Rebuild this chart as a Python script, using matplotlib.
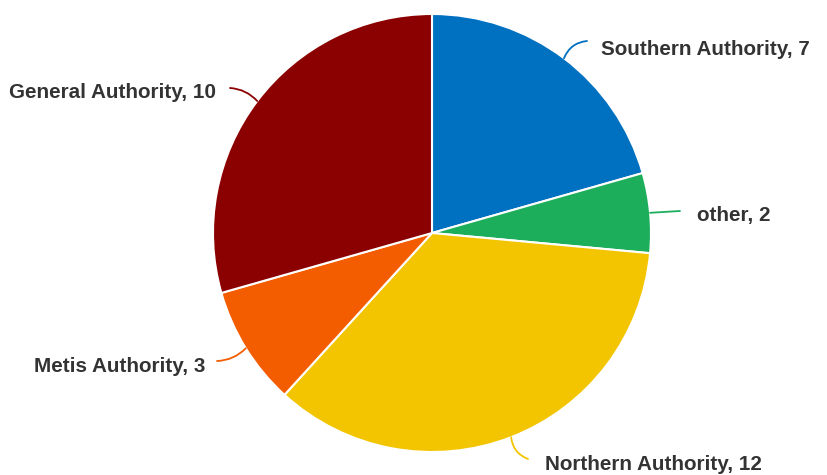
import numpy as np
import matplotlib
matplotlib.use("Agg")
import matplotlib.pyplot as plt

# Authorities and counts, clockwise from 12 o'clock
labels = ["Southern Authority", "other", "Northern Authority", "Metis Authority", "General Authority"]
values = [7, 2, 12, 3, 10]
colors = ["#0070C0", "#1DAE5C", "#F2C500", "#F45C00", "#8B0000"]

W, H = 828, 475
cx, cy, R = 432, 233, 219

# leader end, text x, text y, alignment, curve of leader
label_pos = [
    ((587, 41), 601, 47, "left", 0.3),
    ((680, 211), 697, 214, "left", 0.0),
    ((528, 459), 545, 463, "left", -0.3),
    ((217, 361), 205, 365, "right", 0.2),
    ((230, 88), 216, 90, "right", -0.2),
]

fig = plt.figure(figsize=(W / 100, H / 100), dpi=100)
ax = fig.add_axes([0, 0, 1, 1])

wedges, _ = ax.pie(values, colors=colors, startangle=90, counterclock=False,
                   center=(cx, H - cy), radius=R,
                   wedgeprops=dict(edgecolor="white", linewidth=1.5))
ax.set_xlim(0, W)
ax.set_ylim(0, H)
ax.set_aspect("equal")
ax.axis("off")

for w, lab, val, c, (end, tx, ty, ha, rad) in zip(wedges, labels, values, colors, label_pos):
    mid = np.deg2rad((w.theta1 + w.theta2) / 2)
    start = (cx + R * np.cos(mid), H - cy + R * np.sin(mid))
    ax.annotate("", xy=start, xytext=(end[0], H - end[1]),
                arrowprops=dict(arrowstyle="-", color=c, lw=1.3,
                                shrinkA=0, shrinkB=0,
                                connectionstyle=f"arc3,rad={rad}"))
    ax.text(tx, H - ty, f"{lab}, {val}", ha=ha, va="center_baseline",
            fontsize=14.9, fontweight="bold", color="#333333",
            family=["Liberation Sans", "DejaVu Sans"])

fig.savefig("out.png", dpi=100, facecolor="white")
